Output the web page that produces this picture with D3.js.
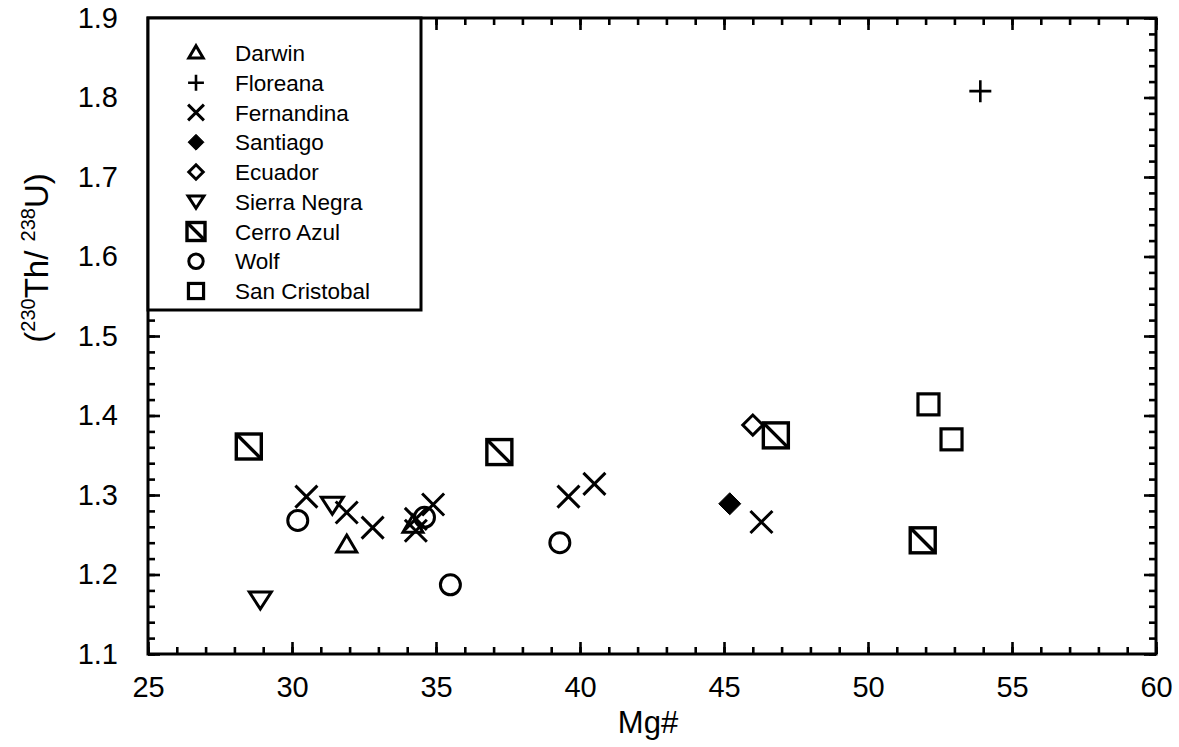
<!DOCTYPE html>
<html>
<head>
<meta charset="utf-8">
<script src="https://cdn.jsdelivr.net/npm/d3@7"></script>
<style>
  html, body { margin: 0; padding: 0; background: #fff; }
  svg { display: block; font-family: "Liberation Sans", Arial, Helvetica, sans-serif; }
</style>
</head>
<body>
<svg id="chart" width="1179" height="747"></svg>
<script>
// ---- data ----
const seriesNames = ["Darwin", "Floreana", "Fernandina", "Santiago", "Ecuador", "Sierra Negra", "Cerro Azul", "Wolf", "San Cristobal"];
const darwin      = [[31.9, 1.237], [34.2, 1.262]];
const floreana    = [[53.9, 1.808]];
const fernandina  = [[30.5, 1.298], [31.9, 1.278], [32.8, 1.259], [34.3, 1.270], [34.3, 1.255], [34.9, 1.288], [39.6, 1.298], [40.5, 1.314], [46.3, 1.266]];
const santiago    = [[45.2, 1.289]];
const ecuador     = [[46.0, 1.388]];
const sierraNegra = [[28.9, 1.168], [31.4, 1.287]];
const cerroAzul   = [[28.5, 1.361], [37.2, 1.354], [46.8, 1.375], [51.9, 1.243]];
const wolf        = [[30.2, 1.268], [34.6, 1.272], [35.5, 1.187], [39.3, 1.240]];
const sanCristobal= [[52.1, 1.414], [52.9, 1.370]];

const xTickLabels = [25, 30, 35, 40, 45, 50, 55, 60];
const yTickLabels = [1.1, 1.2, 1.3, 1.4, 1.5, 1.6, 1.7, 1.8, 1.9];

// ---- layout ----
const svg = d3.select("#chart");
const pLeft = 148, pRight = 1156, pTop = 18, pBottom = 654;
const x = d3.scaleLinear().domain([25, 60]).range([pLeft, pRight]);
const y = d3.scaleLinear().domain([1.1, 1.9]).range([pBottom, pTop]);

const xMinor = d3.range(25, 60.001, 1);
const yMinor = d3.range(1.1, 1.9001, 0.02);

function styleAxis(g) {
  g.select(".domain").remove();
  g.selectAll(".tick line").attr("stroke", "#000").attr("stroke-width", 2.6);
}

// minor ticks (inward)
svg.append("g").attr("transform", `translate(0,${pBottom})`)
  .call(d3.axisBottom(x).tickValues(xMinor).tickSize(-7).tickFormat("")).call(styleAxis);
svg.append("g").attr("transform", `translate(0,${pTop})`)
  .call(d3.axisTop(x).tickValues(xMinor).tickSize(-7).tickFormat("")).call(styleAxis);
svg.append("g").attr("transform", `translate(${pLeft},0)`)
  .call(d3.axisLeft(y).tickValues(yMinor).tickSize(-7).tickFormat("")).call(styleAxis);
svg.append("g").attr("transform", `translate(${pRight},0)`)
  .call(d3.axisRight(y).tickValues(yMinor).tickSize(-7).tickFormat("")).call(styleAxis);

// major ticks with labels
const gx = svg.append("g").attr("transform", `translate(0,${pBottom})`)
  .call(d3.axisBottom(x).tickValues(xTickLabels).tickSize(-12).tickPadding(22).tickFormat(d3.format("d")));
styleAxis(gx);
gx.selectAll("text").attr("font-size", 29).attr("fill", "#000").attr("font-family", "Liberation Sans, Arial, sans-serif");
svg.append("g").attr("transform", `translate(0,${pTop})`)
  .call(d3.axisTop(x).tickValues(xTickLabels).tickSize(-12).tickFormat("")).call(styleAxis);

const gy = svg.append("g").attr("transform", `translate(${pLeft},0)`)
  .call(d3.axisLeft(y).tickValues(yTickLabels).tickSize(-12).tickPadding(30).tickFormat(d3.format(".1f")));
styleAxis(gy);
gy.selectAll("text").attr("font-size", 29).attr("fill", "#000").attr("font-family", "Liberation Sans, Arial, sans-serif");
svg.append("g").attr("transform", `translate(${pRight},0)`)
  .call(d3.axisRight(y).tickValues(yTickLabels).tickSize(-12).tickFormat("")).call(styleAxis);

// frame
svg.append("rect").attr("x", pLeft).attr("y", pTop).attr("width", pRight - pLeft).attr("height", pBottom - pTop)
  .attr("fill", "none").attr("stroke", "#000").attr("stroke-width", 3);

// ---- marker shapes ----
const SW = 3;
function drawMarker(g, type, s) {
  if (type === "Darwin") {
    g.append("path").attr("d", `M0,${-10*s} L${10*s},${7*s} L${-10*s},${7*s} Z`)
      .attr("fill", "none").attr("stroke", "#000").attr("stroke-width", SW);
  } else if (type === "Floreana") {
    g.append("path").attr("d", `M${-11*s},0 L${11*s},0 M0,${-11*s} L0,${11*s}`)
      .attr("stroke", "#000").attr("stroke-width", 2.6);
  } else if (type === "Fernandina") {
    g.append("path").attr("d", `M${-11*s},${-11*s} L${11*s},${11*s} M${11*s},${-11*s} L${-11*s},${11*s}`)
      .attr("stroke", "#000").attr("stroke-width", SW);
  } else if (type === "Santiago") {
    g.append("path").attr("d", `M0,${-11*s} L${11*s},0 L0,${11*s} L${-11*s},0 Z`)
      .attr("fill", "#000").attr("stroke", "#000").attr("stroke-width", 1);
  } else if (type === "Ecuador") {
    g.append("path").attr("d", `M0,${-10*s} L${10*s},0 L0,${10*s} L${-10*s},0 Z`)
      .attr("fill", "none").attr("stroke", "#000").attr("stroke-width", SW);
  } else if (type === "Sierra Negra") {
    g.append("path").attr("d", `M${-11*s},${-8*s} L${11*s},${-8*s} L0,${9*s} Z`)
      .attr("fill", "none").attr("stroke", "#000").attr("stroke-width", SW);
  } else if (type === "Cerro Azul") {
    const h = 12.5 * s;
    g.append("rect").attr("x", -h).attr("y", -h).attr("width", 2*h).attr("height", 2*h)
      .attr("fill", "none").attr("stroke", "#000").attr("stroke-width", 3.4);
    g.append("path").attr("d", `M${-h},${-h} L${h},${h}`).attr("stroke", "#000").attr("stroke-width", 3.4);
  } else if (type === "Wolf") {
    g.append("circle").attr("r", 10*s).attr("fill", "none").attr("stroke", "#000").attr("stroke-width", SW);
  } else if (type === "San Cristobal") {
    const h = 10.5 * s;
    g.append("rect").attr("x", -h).attr("y", -h).attr("width", 2*h).attr("height", 2*h)
      .attr("fill", "none").attr("stroke", "#000").attr("stroke-width", 3.2);
  }
}

const seriesData = [darwin, floreana, fernandina, santiago, ecuador, sierraNegra, cerroAzul, wolf, sanCristobal];
const plot = svg.append("g");
seriesNames.forEach((name, i) => {
  plot.selectAll(null).data(seriesData[i]).enter().append("g")
    .attr("transform", d => `translate(${x(d[0])},${y(d[1])})`)
    .each(function() { drawMarker(d3.select(this), name, 1); });
});

// ---- legend ----
const legend = svg.append("g");
legend.append("rect").attr("x", pLeft).attr("y", pTop).attr("width", 273).attr("height", 292)
  .attr("fill", "#fff").attr("stroke", "#000").attr("stroke-width", 3);
const rowY = d3.scalePoint().domain(seriesNames).range([53, 291]);
seriesNames.forEach(name => {
  const row = legend.append("g").attr("transform", `translate(0,${rowY(name)})`);
  const m = row.append("g").attr("transform", `translate(196,0)`);
  drawMarker(m, name, 0.72);
  row.append("text").attr("x", 235).attr("y", 0).attr("dy", "0.36em")
    .attr("font-size", 22.5).attr("fill", "#000").text(name);
});

// ---- axis titles ----
svg.append("text").attr("x", (pLeft + pRight) / 2 - 4).attr("y", 733)
  .attr("text-anchor", "middle").attr("font-size", 31).attr("fill", "#000").text("Mg#");

const yt = svg.append("text").attr("transform", "translate(48,258) rotate(-90)")
  .attr("text-anchor", "middle").attr("font-size", 33).attr("fill", "#000");
yt.append("tspan").text("(");
yt.append("tspan").attr("font-size", 20).attr("dy", -13).text("230");
yt.append("tspan").attr("dy", 13).text("Th/ ");
yt.append("tspan").attr("font-size", 20).attr("dy", -13).text("238");
yt.append("tspan").attr("dy", 13).text("U)");
</script>
</body>
</html>
